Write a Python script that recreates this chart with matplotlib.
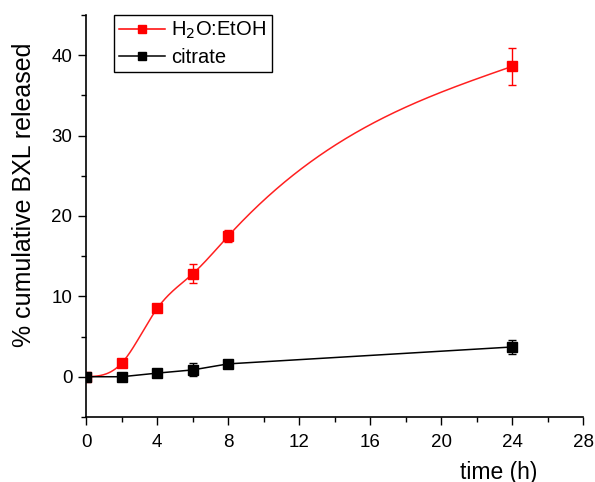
import numpy as np
import matplotlib
matplotlib.use("Agg")
import matplotlib.pyplot as plt

plt.rcParams['font.family'] = ['Liberation Sans', 'DejaVu Sans']

# release data (time in h, % cumulative BXL released)
time_h = [0, 2, 4, 6, 8, 24]
etoh = [0.0, 1.7, 8.5, 12.8, 17.5, 38.6]
etoh_err = [0.0, 0.3, 0.4, 1.2, 0.8, 2.3]
citrate = [0.0, 0.0, 0.45, 0.85, 1.6, 3.7]
citrate_err = [0.0, 0.2, 0.2, 0.8, 0.3, 0.9]


def natural_spline(x, y, xs):
    # natural cubic spline through the measured points (smooth line only)
    x = np.asarray(x, float)
    y = np.asarray(y, float)
    n = len(x)
    h = np.diff(x)
    A = np.zeros((n, n))
    b = np.zeros(n)
    A[0, 0] = 1
    A[-1, -1] = 1
    for i in range(1, n - 1):
        A[i, i - 1] = h[i - 1]
        A[i, i] = 2 * (h[i - 1] + h[i])
        A[i, i + 1] = h[i]
        b[i] = 3 * ((y[i + 1] - y[i]) / h[i] - (y[i] - y[i - 1]) / h[i - 1])
    c = np.linalg.solve(A, b)
    out = np.empty_like(xs)
    for k, xv in enumerate(xs):
        i = min(np.searchsorted(x, xv, side='right') - 1, n - 2)
        i = max(i, 0)
        bb = (y[i + 1] - y[i]) / h[i] - h[i] * (2 * c[i] + c[i + 1]) / 3
        d = (c[i + 1] - c[i]) / (3 * h[i])
        t = xv - x[i]
        out[k] = y[i] + bb * t + c[i] * t ** 2 + d * t ** 3
    return out


fig = plt.figure(figsize=(5.95, 4.82), dpi=100)
ax = fig.add_axes([0.145, 0.135, 0.835, 0.834])

xs = np.linspace(0, 24, 400)
ax.plot(xs, natural_spline(time_h, etoh, xs), color='#ff2020', lw=1.1)
ax.errorbar(time_h, etoh, yerr=etoh_err, fmt='s', color='#ff0000', ms=7,
            capsize=3.2, elinewidth=1, capthick=1)
ax.errorbar(time_h, citrate, yerr=citrate_err, fmt='-s', color='black', ms=7,
            lw=1.1, capsize=3.2, elinewidth=1, capthick=1)

# legend handles
h1, = ax.plot([], [], '-s', color='#ff0000', ms=6, lw=1.1)
h2, = ax.plot([], [], '-s', color='black', ms=6, lw=1.1)
leg = ax.legend([h1, h2], ['H$_2$O:EtOH', 'citrate'], loc='upper left',
                bbox_to_anchor=(0.056, 1.0), borderaxespad=0, fontsize=14.5,
                fancybox=False, framealpha=1, edgecolor='black',
                handlelength=2.3, borderpad=0.25, labelspacing=0.35,
                handletextpad=0.3)
leg.get_frame().set_linewidth(1.0)

ax.set_xlim(0, 28)
ax.set_ylim(-5, 45)
ax.set_xticks(np.arange(0, 29, 4))
ax.set_xticks(np.arange(0, 29, 2), minor=True)
ax.set_yticks([0, 10, 20, 30, 40])
ax.set_yticks(np.arange(-5, 46, 5), minor=True)
ax.tick_params(which='major', direction='out', length=6, width=1,
               labelsize=13.5, pad=4)
ax.tick_params(axis='x', which='major', pad=6)
ax.tick_params(which='minor', direction='out', length=3.5, width=1)
ax.spines['top'].set_visible(False)
ax.spines['right'].set_visible(False)
ax.spines['left'].set_linewidth(1.2)
ax.spines['bottom'].set_linewidth(1.2)

ax.set_xlabel('time (h)', fontsize=16.5)
ax.xaxis.set_label_coords(0.83, -0.137)
ax.xaxis.label.set_va('center')
ax.set_ylabel('% cumulative BXL released', fontsize=18)
ax.yaxis.set_label_coords(-0.125, 0.552)
ax.yaxis.label.set_va('center')

fig.savefig('out.png', dpi=100)
